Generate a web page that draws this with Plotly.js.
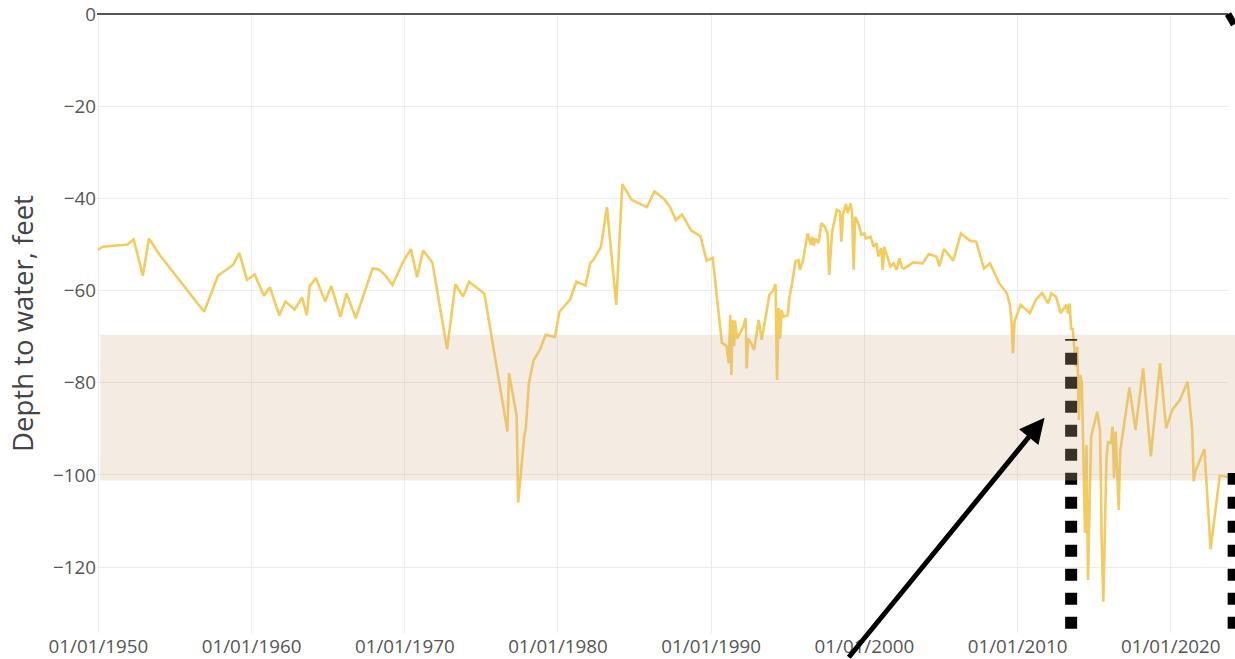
<!DOCTYPE html>
<html>
<head>
<meta charset="utf-8">
<script src="https://cdn.plot.ly/plotly-3.0.1.min.js"></script>
<style>html,body{margin:0;padding:0;background:#fff;}#chart{width:1235px;height:659px;}</style>
</head>
<body>
<div id="chart"></div>
<script>
const dates = [
'1949-12-15','1950-04-20','1951-11-25','1952-04-20','1952-11-25','1953-04-20','1954-01-01','1956-11-25','1957-10-20','1958-10-20',
'1959-03-14','1959-09-13','1960-03-14','1960-10-20','1961-03-14','1961-10-20','1962-03-14','1962-10-20','1963-04-20','1963-08-08',
'1963-10-20','1964-03-14','1964-10-20','1965-03-14','1965-10-20','1966-03-14','1966-10-20','1967-11-25','1968-04-20','1968-09-13',
'1969-03-14','1969-11-25','1970-05-27','1970-10-20','1971-03-14','1971-10-20','1972-10-05','1973-04-20','1973-10-20','1974-03-14',
'1975-03-14','1976-09-13','1976-10-20','1977-04-20','1977-05-27','1977-10-20','1977-11-25','1978-02-06','1978-05-27','1978-10-20',
'1979-03-14','1979-10-20','1980-02-06','1980-10-20','1981-03-14','1981-10-20','1982-02-06','1982-04-20','1982-10-20','1983-03-14',
'1983-10-20','1984-03-14','1984-10-20','1985-10-20','1986-04-20','1986-11-25','1987-04-20','1987-09-13','1988-02-06','1988-09-13',
'1989-04-20','1989-09-13','1990-02-06','1990-09-13','1991-01-01','1991-02-24','1991-04-01','1991-04-27','1991-05-27','1991-07-02',
'1991-07-20','1991-09-13','1992-02-06','1992-04-01','1992-04-27','1992-05-27','1992-08-08','1992-10-20','1993-02-06','1993-04-20',
'1993-10-20','1994-01-01','1994-03-14','1994-04-20','1994-05-27','1994-07-02','1994-08-08','1994-09-13','1995-01-01','1995-02-06',
'1995-04-20','1995-07-02','1995-09-13','1995-10-20','1996-01-01','1996-04-20','1996-07-02','1996-08-08','1996-09-13','1996-10-20',
'1997-01-01','1997-03-14','1997-05-27','1997-08-08','1997-09-13','1997-11-25','1998-03-14','1998-05-27','1998-07-02','1998-08-08',
'1998-10-20','1998-11-25','1999-02-06','1999-03-14','1999-04-20','1999-05-27','1999-08-08','1999-10-20','2000-01-01','2000-02-06',
'2000-05-27','2000-08-08','2000-10-20','2000-11-25','2001-02-06','2001-03-14','2001-04-20','2001-07-02','2001-09-13','2001-11-25',
'2002-02-06','2002-04-20','2002-06-14','2002-08-08','2003-03-14','2003-10-20','2004-03-14','2004-09-13','2004-11-25','2005-03-14',
'2005-10-20','2006-04-20','2006-11-25','2007-04-20','2007-10-20','2008-03-14','2008-10-20','2009-04-20','2009-07-02','2009-08-08',
'2009-09-13','2009-10-20','2010-03-14','2010-10-20','2011-03-14','2011-08-08','2012-01-01','2012-03-14','2012-07-02','2012-09-13',
'2012-10-20','2013-03-14','2013-04-20','2013-05-27','2013-07-02','2013-08-08','2013-10-20','2013-11-25','2014-01-01','2014-02-06',
'2014-03-14','2014-05-27','2014-07-02','2014-08-08','2014-10-20','2015-03-14','2015-05-20','2015-06-14','2015-07-02','2015-08-08',
'2015-10-20','2015-11-25','2016-02-06','2016-03-14','2016-04-20','2016-05-27','2016-08-08','2016-09-13','2017-04-20','2017-09-13',
'2018-03-14','2018-09-13','2019-04-20','2019-09-13','2020-02-06','2020-08-08','2021-02-06','2021-05-27','2021-07-02','2021-08-08',
'2022-03-14','2022-08-08','2023-03-14','2023-09-13'
];
const depths = [
-51.2,-50.5,-50.0,-48.9,-56.8,-48.7,-52.3,-64.6,-56.8,-54.4,
-51.8,-57.7,-56.5,-61.1,-59.3,-65.4,-62.4,-64.1,-61.5,-65.4,
-59.0,-57.3,-62.4,-59.0,-65.7,-60.6,-66.0,-55.2,-55.4,-56.6,
-58.8,-53.7,-51.0,-57.1,-51.3,-53.9,-72.7,-58.6,-61.3,-58.1,
-60.7,-90.6,-77.9,-87.2,-106.0,-91.5,-89.9,-80.1,-75.2,-73.0,
-69.6,-70.1,-64.6,-61.9,-58.1,-58.9,-54.1,-53.4,-50.6,-41.9,
-63.1,-36.9,-40.3,-41.9,-38.5,-40.0,-41.8,-44.7,-43.5,-47.0,
-48.2,-53.5,-52.9,-71.4,-72.0,-75.8,-65.3,-78.3,-66.4,-72.0,
-66.5,-70.4,-67.8,-66.0,-76.9,-70.4,-71.4,-72.9,-66.4,-70.7,
-60.9,-60.2,-58.6,-79.4,-63.8,-70.4,-64.2,-65.7,-65.3,-61.7,
-58.1,-53.7,-53.4,-55.5,-53.4,-47.6,-50.1,-48.3,-50.3,-48.7,
-49.7,-45.4,-46.1,-47.6,-56.6,-47.2,-42.5,-42.9,-49.4,-43.6,
-41.2,-43.2,-41.1,-43.2,-55.5,-44.0,-45.4,-47.9,-47.6,-48.7,
-48.3,-50.5,-49.7,-52.6,-50.8,-55.5,-50.5,-52.6,-54.8,-54.1,
-55.5,-53.0,-55.0,-55.2,-53.9,-54.1,-52.1,-52.6,-54.7,-51.0,
-53.5,-47.6,-49.2,-49.4,-55.2,-54.1,-58.4,-60.6,-63.1,-66.4,
-73.6,-66.7,-63.1,-64.9,-62.0,-60.5,-62.8,-60.6,-61.3,-63.5,
-64.9,-63.1,-65.0,-62.8,-68.5,-68.2,-76.5,-72.2,-88.1,-78.3,
-80.0,-112.6,-93.5,-122.8,-91.7,-86.3,-90.2,-103.3,-115.5,-127.5,
-96.7,-92.9,-93.1,-89.5,-100.7,-90.6,-107.6,-94.9,-81.0,-90.2,
-76.9,-96.0,-75.8,-89.9,-85.9,-83.7,-79.8,-90.2,-101.4,-99.3,
-94.4,-116.1,-100.2,-100.4
];
const yTitle = 'Depth to water, feet';
const bandRange = [-101.2, -69.6];
const markerDate = '2013-07-01';
const markerRange = [-133.4, -70.5];
const edgeRange = [-133.4, -99.6];
const arrowTip = ['2011-10-06', -87.6];

const trace = {
  x: dates, y: depths, type: 'scatter', mode: 'lines',
  line: {color: '#f4cb5e', width: 2.6}, hoverinfo: 'x+y', showlegend: false
};

const layout = {
  width: 1235, height: 659,
  margin: {l: 97, r: 7, t: 14, b: 26, pad: 0},
  paper_bgcolor: '#fff', plot_bgcolor: '#fff',
  font: {family: '"Open Sans", sans-serif', color: '#444', size: 18.8},
  xaxis: {
    type: 'date', range: ['1949-11-28', '2023-09-27'],
    tick0: '1950-01-01', dtick: 'M120', tickformat: '%m/%d/%Y',
    showgrid: true, gridcolor: '#ebebeb', zeroline: false, showline: false,
    tickfont: {size: 18.8, color: '#555'}
  },
  yaxis: {
    range: [-134.3, 0], dtick: 20, showgrid: true, gridcolor: '#ebebeb',
    zeroline: true, zerolinecolor: '#555', zerolinewidth: 2, showline: false,
    tickfont: {size: 18.8, color: '#555'},
    title: {text: yTitle, font: {size: 27.5, color: '#444'}, standoff: 11}
  },
  shapes: [
    {type: 'line', xref: 'x', yref: 'y', x0: markerDate, x1: markerDate,
     y0: markerRange[0], y1: markerRange[1], line: {color: '#000', width: 12, dash: 'dot'}},
    {type: 'rect', xref: 'paper', yref: 'y', x0: 0.0027, x1: 1.02,
     y0: bandRange[0], y1: bandRange[1], fillcolor: 'rgb(214,185,148)', opacity: 0.27, line: {width: 0}},
    {type: 'line', xref: 'paper', yref: 'y', x0: 1.005, x1: 1.005,
     y0: edgeRange[0], y1: edgeRange[1], line: {color: '#000', width: 12, dash: 'dot'}}
  ],
  annotations: [
    {x: arrowTip[0], y: arrowTip[1], xref: 'x', yref: 'y', text: '', showarrow: true,
     ax: -197, ay: 241, arrowhead: 2, arrowsize: 1, arrowwidth: 5, arrowcolor: '#000'},
    {x: 1, y: 0, xref: 'paper', yref: 'y', text: '', showarrow: true,
     ax: 14, ay: 12, arrowhead: 0, arrowwidth: 7, arrowcolor: '#000'}
  ]
};

Plotly.newPlot('chart', [trace], layout, {displayModeBar: false, staticPlot: true});
</script>
</body>
</html>
